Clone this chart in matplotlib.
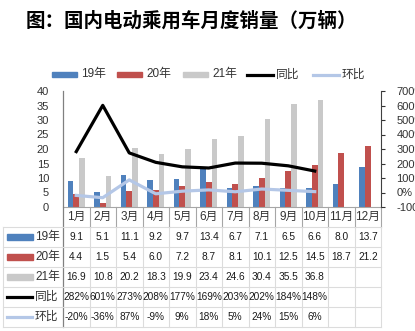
import matplotlib.pyplot as plt
import matplotlib.transforms as mtransforms
from matplotlib.lines import Line2D
from matplotlib.patches import Rectangle

months = ["1月", "2月", "3月", "4月", "5月", "6月", "7月", "8月", "9月", "10月", "11月", "12月"]
sales_19 = [9.1, 5.1, 11.1, 9.2, 9.7, 13.4, 6.7, 7.1, 6.5, 6.6, 8.0, 13.7]
sales_20 = [4.4, 1.5, 5.4, 6.0, 7.2, 8.7, 8.1, 10.1, 12.5, 14.5, 18.7, 21.2]
sales_21 = [16.9, 10.8, 20.2, 18.3, 19.9, 23.4, 24.6, 30.4, 35.5, 36.8]
yoy = [282, 601, 273, 208, 177, 169, 203, 202, 184, 148]
mom = [-20, -36, 87, -9, 9, 18, 5, 24, 15, 6]

C19 = "#4F81BD"
C20 = "#C0504D"
C21 = "#C9C9C9"
CYOY = "#000000"
CMOM = "#B4C7E7"

plt.rcParams["font.family"] = ["Liberation Sans", "Noto Sans CJK SC"]

W, H = 415, 331
fig = plt.figure(figsize=(W / 100, H / 100), dpi=100)


def fx(px):
    return px / W


def fy(py):
    return 1 - py / H


x0, x1, ytop, ybot = 63, 381, 91, 207
ax = fig.add_axes([fx(x0), fy(ybot), fx(x1 - x0), (ybot - ytop) / H])
ax2 = ax.twinx()

n = len(months)
bw = 0.213
ax.bar([i - bw for i in range(n)], sales_19, bw, color=C19, zorder=2)
ax.bar([i for i in range(n)], sales_20, bw, color=C20, zorder=2)
ax.bar([i + bw for i in range(len(sales_21))], sales_21, bw, color=C21, zorder=2)
ax.set_xlim(-0.5, n - 0.5)
ax.set_ylim(0, 40)
ax.set_yticks(range(0, 41, 5))
ax.set_xticks([])
ax.tick_params(axis="y", length=0, pad=10, labelsize=8, colors="#333333")

ax2.plot(range(len(yoy)), yoy, color=CYOY, lw=2.3, zorder=3)
ax2.plot(range(len(mom)), mom, color=CMOM, lw=2.3, zorder=3)
ax2.set_ylim(-100, 700)
ax2.set_yticks(range(-100, 701, 100))
ax2.set_yticklabels([f"{v}%" for v in range(-100, 701, 100)])
ax2.tick_params(axis="y", length=3, pad=8, labelsize=8, colors="#333333", width=0.8)

for a in (ax, ax2):
    a.spines["top"].set_visible(False)
    a.spines["left"].set_visible(False)
    a.spines["right"].set_visible(False)
    a.spines["bottom"].set_color("#A6A6A6")
ax2.spines["right"].set_visible(True)
ax2.spines["right"].set_color("#404040")
ax2.spines["bottom"].set_visible(False)
ax.set_zorder(1)
ax2.set_zorder(2)
ax2.patch.set_visible(False)

# left axis line runs down through label row
fig.add_artist(Line2D([fx(x0), fx(x0)], [fy(ytop), fy(327)], color="#808080", lw=0.9))

# table grid
for yy in [227, 247, 267, 287, 307, 327]:
    fig.add_artist(Line2D([fx(3), fx(x1)], [fy(yy), fy(yy)], color="#DCDCDC", lw=0.8))
fig.add_artist(Line2D([fx(3), fx(3)], [fy(227), fy(327)], color="#DCDCDC", lw=0.8))
cw = (x1 - x0) / n
for i in range(1, n + 1):
    xx = x0 + i * cw
    fig.add_artist(Line2D([fx(xx), fx(xx)], [fy(ybot), fy(227)], color="#A6A6A6", lw=0.8))
    fig.add_artist(Line2D([fx(xx), fx(xx)], [fy(227), fy(327)], color="#DCDCDC", lw=0.8))

trans = mtransforms.blended_transform_factory(ax.transData, fig.transFigure)
for i, m in enumerate(months):
    fig.text(i, fy(217), m, transform=trans, ha="center", va="center", fontsize=8.5, color="#333333")

rows = [
    ("19年", [f"{v:.1f}" for v in sales_19], C19, "bar"),
    ("20年", [f"{v:.1f}" for v in sales_20], C20, "bar"),
    ("21年", [f"{v:.1f}" for v in sales_21], C21, "bar"),
    ("同比", [f"{v}%" for v in yoy], CYOY, "line"),
    ("环比", [f"{v}%" for v in mom], CMOM, "line"),
]
for r, (label, vals, col, kind) in enumerate(rows):
    yc = 237 + 20 * r
    if kind == "bar":
        fig.add_artist(Rectangle((fx(7), fy(yc + 3)), fx(26), 6 / H, color=col))
    else:
        fig.add_artist(Line2D([fx(7), fx(32)], [fy(yc), fy(yc)], color=col, lw=2.3))
    fig.text(fx(35), fy(yc), label, ha="left", va="center", fontsize=8.5, color="#333333")
    for i, v in enumerate(vals):
        fig.text(i, fy(yc), v, transform=trans, ha="center", va="center", fontsize=7.3, color="#1a1a1a")

# legend
leg = [("19年", C19, "bar", 52), ("20年", C20, "bar", 117), ("21年", C21, "bar", 183),
       ("同比", CYOY, "line", 247), ("环比", CMOM, "line", 313)]
for label, col, kind, lx in leg:
    if kind == "bar":
        fig.add_artist(Rectangle((fx(lx), fy(77)), fx(25), 5 / H, color=col))
    else:
        fig.add_artist(Line2D([fx(lx), fx(lx + 26)], [fy(74.5), fy(74.5)], color=col, lw=2.3))
    fig.text(fx(lx + 29), fy(74.5), label, ha="left", va="center", fontsize=8.5, color="#333333")

fig.text(fx(26), fy(21), "图：国内电动乘用车月度销量（万辆）", ha="left", va="center",
         fontsize=14, fontweight="bold", family="Noto Sans CJK SC")

fig.savefig("out.png", dpi=100)
